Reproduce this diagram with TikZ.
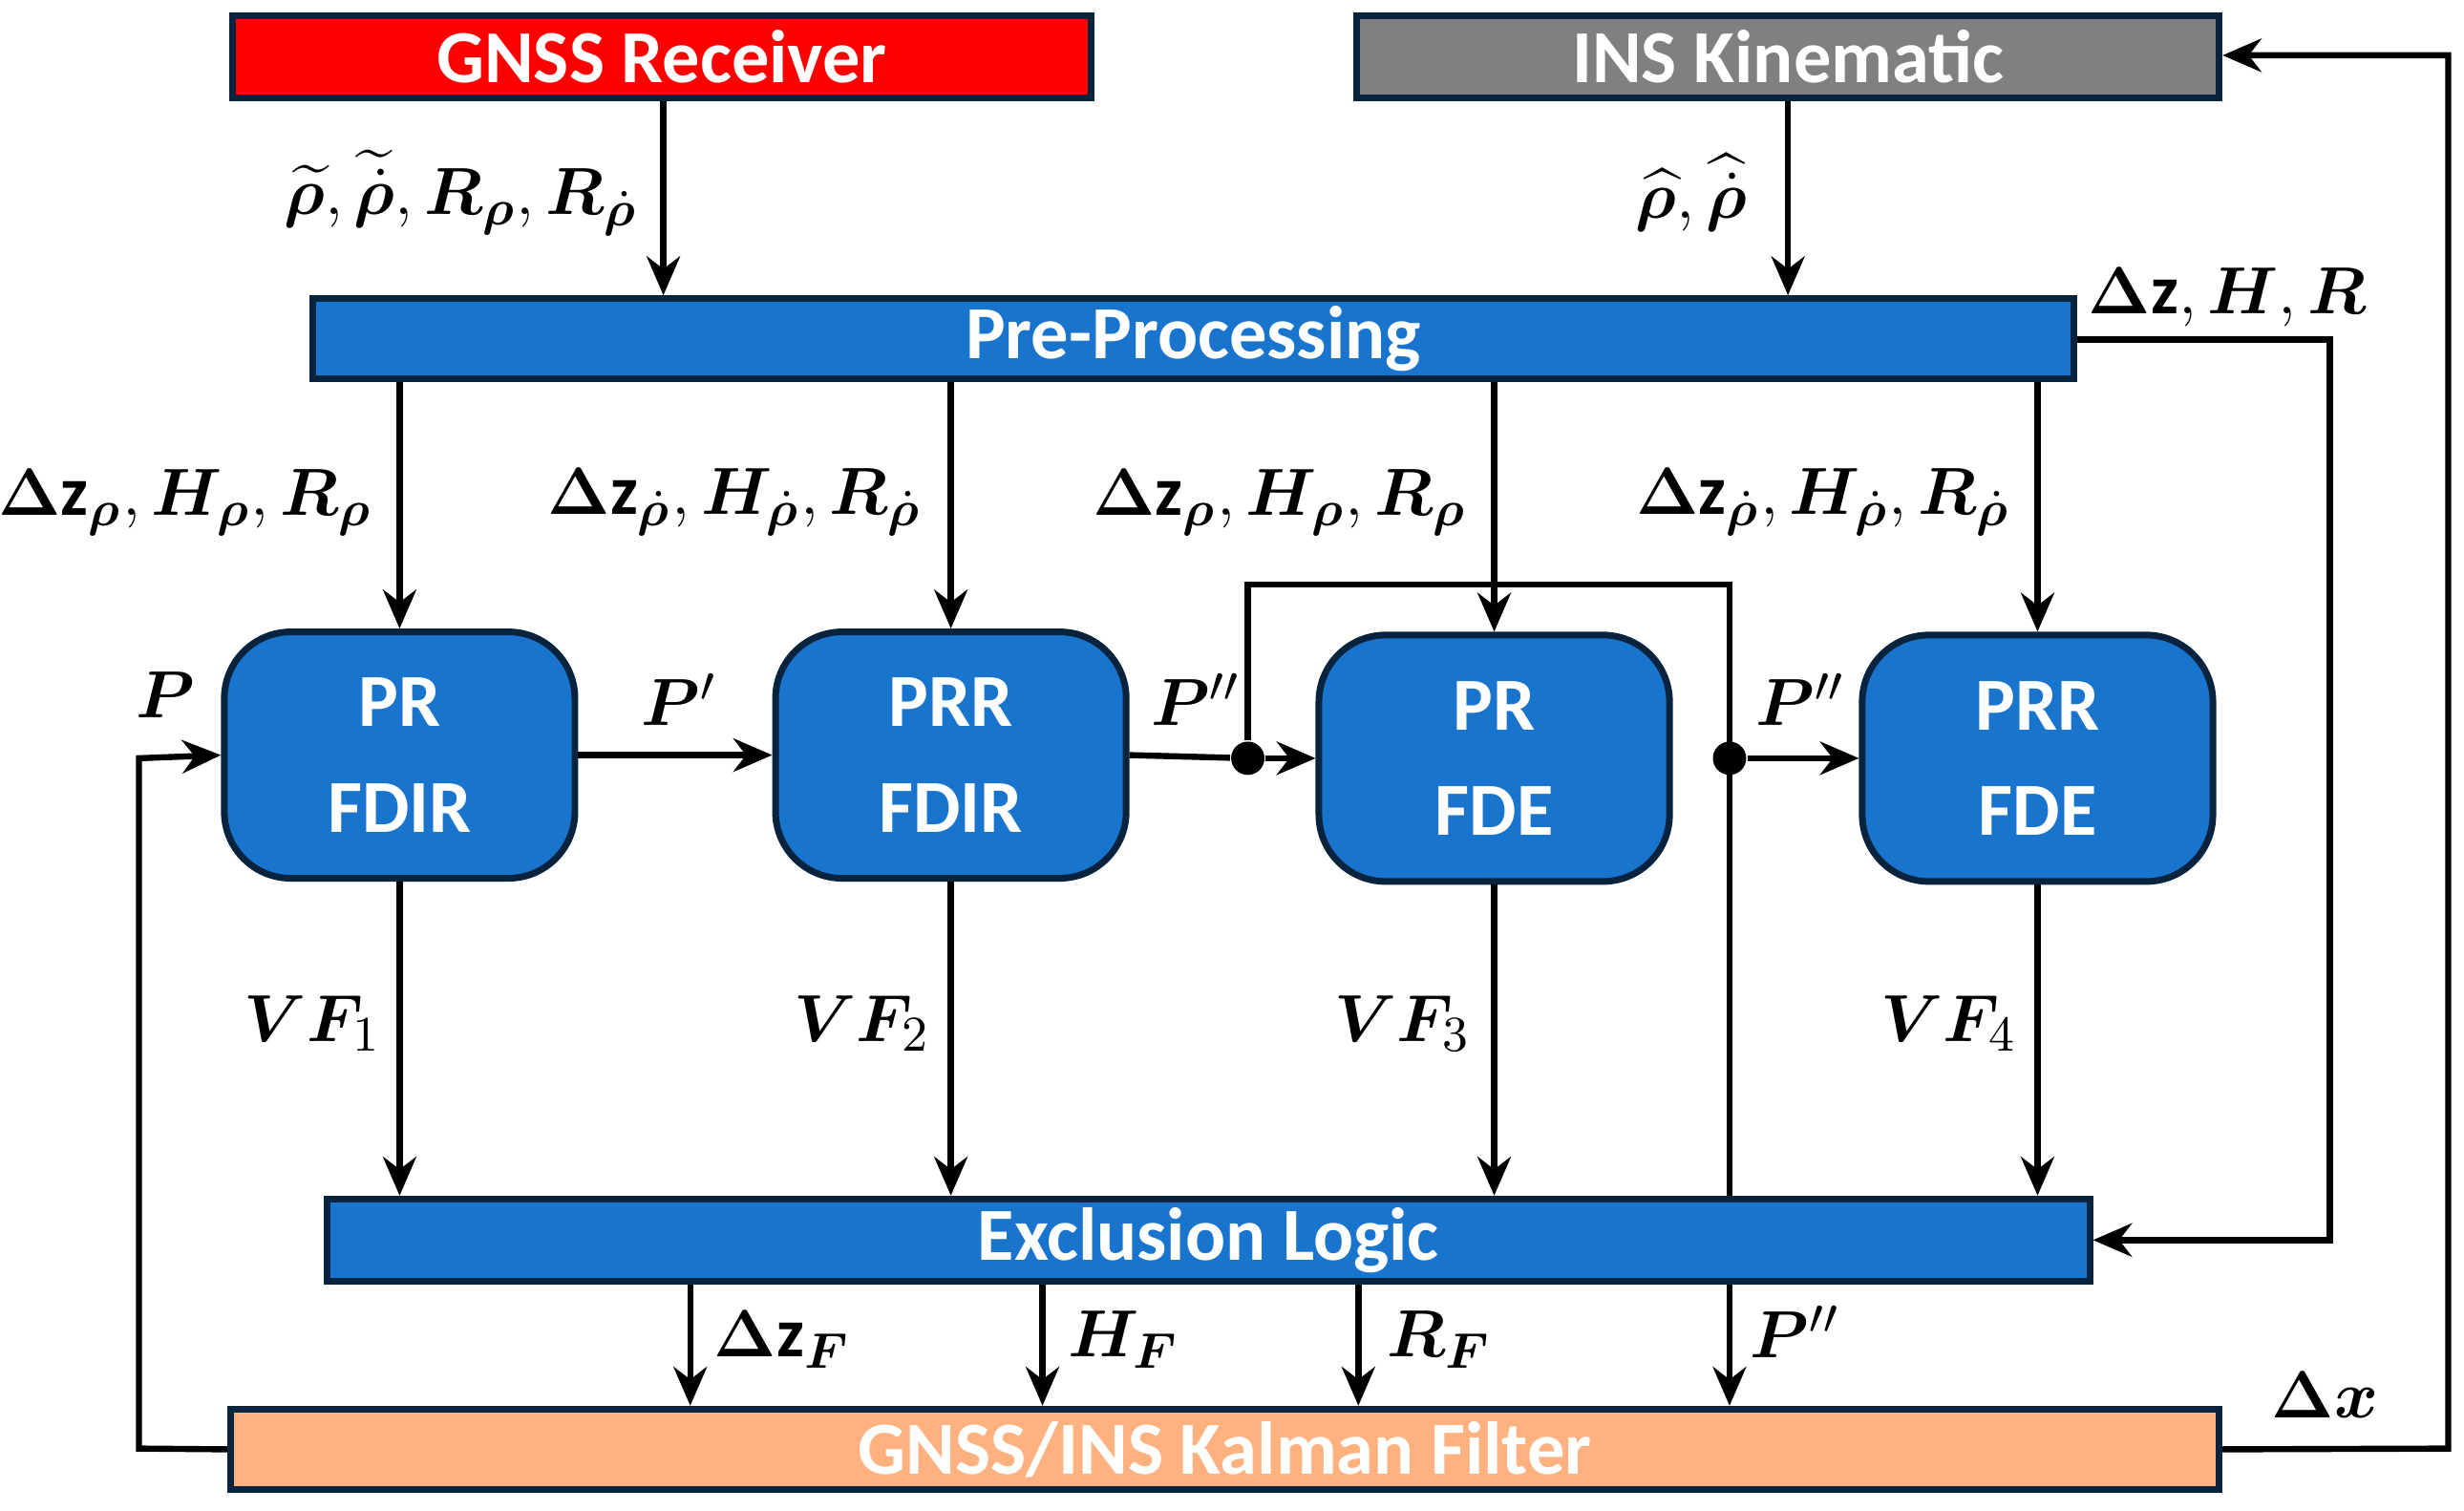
\documentclass[tikz,border=0pt]{standalone}
\usepackage{amsmath,bm}
\usepackage{fontspec}
\setmainfont{Carlito}
\usetikzlibrary{arrows.meta}
\definecolor{bl}{RGB}{24,116,205}
\definecolor{gy}{RGB}{128,128,128}
\definecolor{og}{RGB}{255,178,128}
\begin{document}
\begin{tikzpicture}[x=0.1mm,y=-0.1mm,
 bar/.style={draw=black!70!bl,line width=1.2pt,text=white,font=\fontsize{13.5}{16}\selectfont\bfseries,inner sep=0},
 blk/.style={draw=black!70!bl,fill=bl,line width=1.2pt,rounded corners=12pt,text=white,font=\fontsize{13.5}{17}\selectfont\bfseries,align=center,inner sep=0},
 arr/.style={-{Stealth[length=7pt,width=6pt]},line width=1.1pt},
 ln/.style={line width=1.1pt},
 lab/.style={font=\fontsize{12.5}{15}\selectfont,inner sep=1pt},
 dot/.style={circle,fill,inner sep=0,minimum size=6pt}]
\useasboundingbox (0,0) rectangle (1560,956);
\node[bar,fill=red,minimum width=54.4mm,minimum height=5.2mm] (gnss) at (419,36) {GNSS Receiver};
\node[bar,fill=gy,minimum width=54.6mm,minimum height=5.2mm] (ins) at (1132,36) {INS Kinematic};
\node[bar,fill=bl,minimum width=111.5mm,minimum height=5.1mm] (pre) at (755.5,214.5) {Pre-Processing};
\node[bar,fill=bl,minimum width=111.6mm,minimum height=5.2mm] (exc) at (765,785) {Exclusion Logic};
\node[bar,fill=og,minimum width=125.9mm,minimum height=5.1mm] (kf) at (775.5,917.5) {GNSS/INS Kalman Filter};
\node[blk,minimum width=22.2mm,minimum height=15.6mm] (b1) at (253,478) {PR\\[2pt]FDIR};
\node[blk,minimum width=22.2mm,minimum height=15.6mm] (b2) at (602,478) {PRR\\[2pt]FDIR};
\node[blk,minimum width=22.2mm,minimum height=15.6mm] (b3) at (946,480) {PR\\[2pt]FDE};
\node[blk,minimum width=22.2mm,minimum height=15.6mm] (b4) at (1290,480) {PRR\\[2pt]FDE};
% top inputs
\draw[arr] (gnss.south -| 420,0) -- (pre.north -| 420,0);
\draw[arr] (ins.south) -- (pre.north -| ins.south);
\node[lab,anchor=east] at (408,122) {$\widetilde{\bm\rho},\widetilde{\dot{\bm\rho}},\bm{R}_{\bm\rho},\bm{R}_{\dot{\bm\rho}}$};
\node[lab,anchor=east] at (1110,122) {$\widehat{\bm\rho},\widehat{\dot{\bm\rho}}$};
% pre to blocks
\draw[arr] (pre.south -| b1.north) -- (b1.north);
\draw[arr] (pre.south -| b2.north) -- (b2.north);
\draw[arr] (pre.south -| b3.north) -- (b3.north);
\draw[arr] (pre.south -| b4.north) -- (b4.north);
\node[lab,anchor=east] at (240,318) {$\bm{\Delta}\mathbf{z}_{\bm\rho},\bm{H}_{\bm\rho},\bm{R}_{\bm\rho}$};
\node[lab,anchor=east] at (588,318) {$\bm{\Delta}\mathbf{z}_{\dot{\bm\rho}},\bm{H}_{\dot{\bm\rho}},\bm{R}_{\dot{\bm\rho}}$};
\node[lab,anchor=east] at (933,318) {$\bm{\Delta}\mathbf{z}_{\bm\rho},\bm{H}_{\bm\rho},\bm{R}_{\bm\rho}$};
\node[lab,anchor=east] at (1277,318) {$\bm{\Delta}\mathbf{z}_{\dot{\bm\rho}},\bm{H}_{\dot{\bm\rho}},\bm{R}_{\dot{\bm\rho}}$};
% pre right to exclusion
\coordinate (r1) at (1475,215);
\coordinate (r2) at (1475,785);
\draw[arr] (pre.east |- r1) -- (r1) -- (r2) -- (exc.east);
\node[lab,anchor=west] at (1318,188) {$\bm{\Delta}\mathbf{z},\bm{H},\bm{R}$};
% chain
\draw[arr] (b1.east) -- (b2.west);
\node[lab] at (430,443) {$\bm{P}'$};
\node[dot] (d1) at (790,480) {};
\node[dot] (d2) at (1095,480) {};
\draw[ln] (b2.east) -- (d1);
\draw[arr] (d1) -- (b3.west);
\node[lab] at (757,443) {$\bm{P}''$};
\coordinate (u1) at (790,370);
\coordinate (u2) at (1095,370);
\draw[ln] (d1) -- (u1) -- (u2) -- (exc.north -| u2);
\draw[arr] (d2) -- (b4.west);
\node[lab] at (1140,443) {$\bm{P}''$};
% VF
\foreach \b/\i/\x in {b1/1/198,b2/2/546,b3/3/888,b4/4/1234}{
  \draw[arr] (\b.south) -- (exc.north -| \b.south);
  \node[lab] at (\x,648) {$\bm{VF}_{\i}$};
}
% exclusion to kf
\draw[arr] (exc.south -| 437,0) -- (kf.north -| 437,0);
\draw[arr] (exc.south -| 660,0) -- (kf.north -| 660,0);
\draw[arr] (exc.south -| 860,0) -- (kf.north -| 860,0);
\draw[arr] (exc.south -| 1095,0) -- (kf.north -| 1095,0);
\node[lab,anchor=west] at (448,848) {$\bm{\Delta}\mathbf{z}_{\bm F}$};
\node[lab,anchor=west] at (672,848) {$\bm{H}_{\bm F}$};
\node[lab,anchor=west] at (874,848) {$\bm{R}_{\bm F}$};
\node[lab,anchor=west] at (1104,843) {$\bm{P}''$};
% feedback
\coordinate (l1) at (88,917);
\coordinate (l2) at (88,480);
\draw[arr] (kf.west) -- (l1) -- (l2) -- (b1.west);
\node[lab] at (105,440) {$\bm{P}$};
\coordinate (k1) at (1550,917);
\coordinate (k2) at (1550,35);
\draw[arr] (kf.east) -- (k1) -- (k2) -- (ins.east |- k2);
\node[lab] at (1472,883) {$\bm{\Delta x}$};
\end{tikzpicture}
\end{document}
